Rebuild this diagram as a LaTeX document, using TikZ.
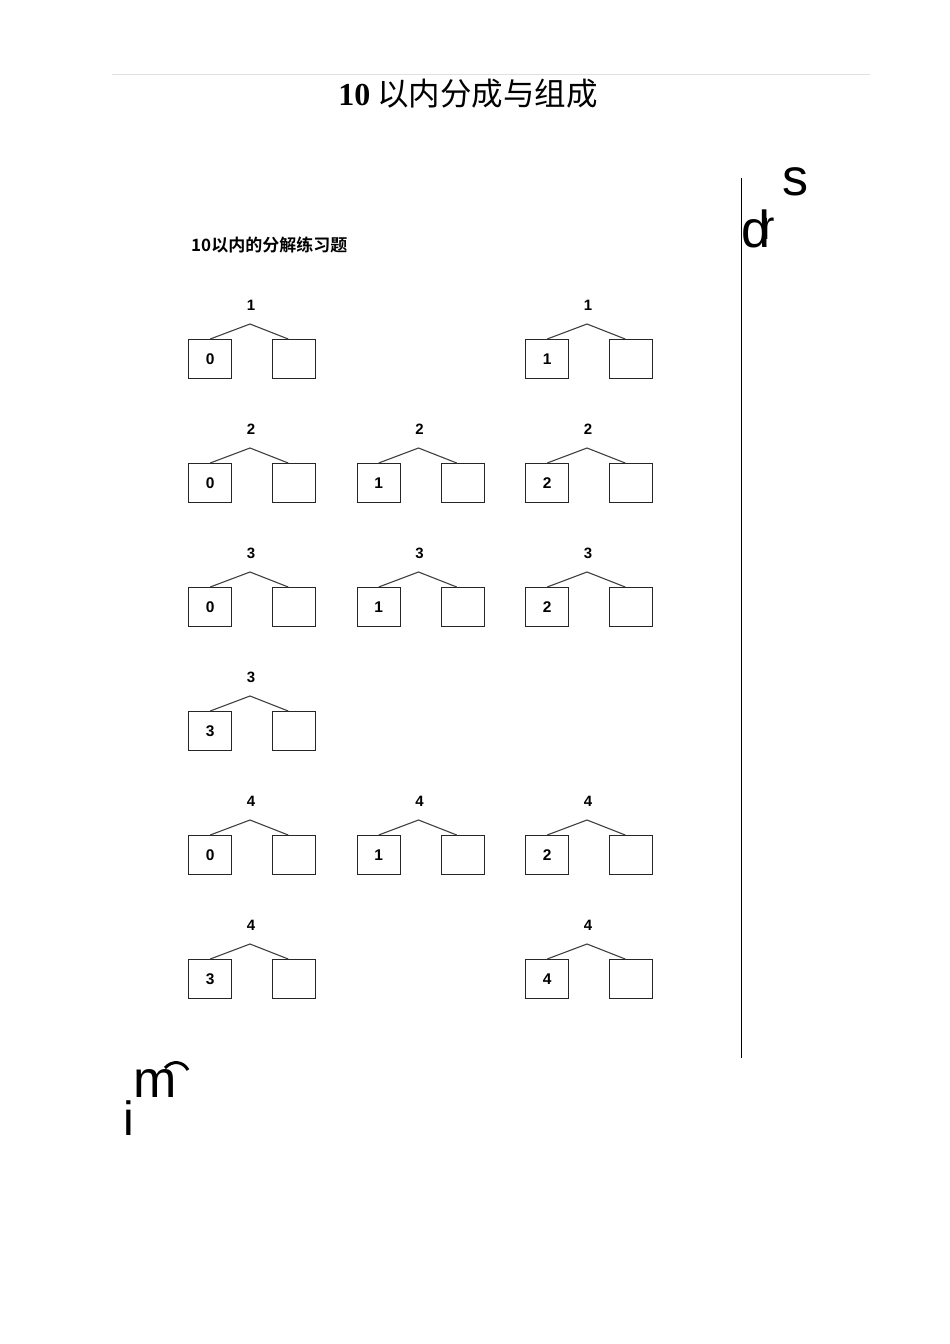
\documentclass[tikz,border=0pt]{standalone}
\usepackage{fontspec}
\setmainfont{Liberation Serif}
\setsansfont{Liberation Sans}
\newfontfamily\cjk{Noto Sans CJK SC}
\newfontfamily\cjkb{Noto Sans CJK SC Bold}
\begin{document}
\begin{tikzpicture}[x=1pt,y=-1pt,
  numbox/.style={draw=black!85,line width=1.4pt,minimum width=43pt,minimum height=39pt,inner sep=0pt,anchor=north west,font=\sffamily\bfseries\fontsize{15.5}{15.5}\selectfont},
  topnum/.style={font=\sffamily\bfseries\fontsize{15}{15}\selectfont,inner sep=0pt},
  branch/.style={draw=black!75,line width=1.1pt},
  glyph/.style={font=\sffamily\fontsize{52}{52}\selectfont,inner sep=0pt}]
\useasboundingbox (0,0) rectangle (950,1344);
\fill[white] (0,0) rectangle (950,1344);
% top rule
\coordinate (rl) at (112,74);
\coordinate (rr) at (870,74);
\draw[black!12,line width=0.8pt] (rl) -- (rr);
% title
\node[inner sep=0pt] (title) at (468,94) {{\bfseries\fontsize{32}{32}\selectfont 10}\hspace{7pt}{\cjk\fontsize{31.5}{31.5}\selectfont 以内分成与组成}};
% vertical rule
\coordinate (vt) at (741,178);
\coordinate (vb) at (741,1058);
\draw[black,line width=1pt] (vt) -- (vb);
% stray glyphs
\node[glyph] (gs) at (795,182) {s};
\node[glyph,anchor=base west] (gd) at (741,247) {d\kern-9pt\raisebox{8pt}{\fontsize{40}{40}\selectfont r}};
\node[glyph] (gm) at (155,1083) {m};
\node[glyph,font=\sffamily\fontsize{48}{48}\selectfont] (gi) at (129,1118) {i};
\draw[black,line width=3pt] (165,1068) .. controls (172,1060) and (183,1061) .. (188,1070);
% subtitle
\node[inner sep=0pt,anchor=west] (sub) at (191,245) {\cjkb\fontsize{17}{17}\selectfont 10以内的分解练习题};
% trees
\foreach \col/\row/\top/\left [count=\i] in {0/0/1/0, 2/0/1/1, 0/1/2/0, 1/1/2/1, 2/1/2/2, 0/2/3/0, 1/2/3/1, 2/2/3/2, 0/3/3/3, 0/4/4/0, 1/4/4/1, 2/4/4/2, 0/5/4/3, 2/5/4/4}{
  \pgfmathsetmacro{\bx}{188+168.5*\col}
  \pgfmathsetmacro{\by}{339+124*\row}
  \node[topnum] (t\i) at (\bx+63,\by-34) {\top};
  \coordinate (a\i) at (\bx+62,\by-15);
  \node[numbox] (l\i) at (\bx,\by) {\left};
  \node[numbox] (r\i) at (\bx+84,\by) {};
  \draw[branch] (l\i.north) -- (a\i) -- ([xshift=-6pt]r\i.north);
}
\end{tikzpicture}
\end{document}
